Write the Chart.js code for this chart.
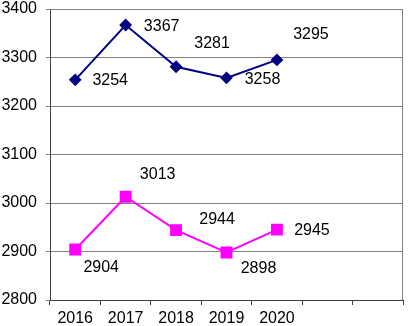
<!DOCTYPE html>
<html><head><meta charset="utf-8">
<script src="https://cdn.jsdelivr.net/npm/chart.js@4/dist/chart.umd.min.js"></script>
<style>html,body{margin:0;padding:0;background:#fff}#wrap{width:412px;height:326px}</style>
</head><body><div id="wrap"><canvas id="c" width="412" height="326"></canvas></div>
<script>
const categories = ['2016','2017','2018','2019','2020','',''];
const seriesA = [3254, 3367, 3281, 3258, 3295];
const seriesB = [2904, 3013, 2944, 2898, 2945];
const yTicks = [2800, 2900, 3000, 3100, 3200, 3300, 3400];
// label placement offsets (px) relative to each point
const offsetsA = [[35,1],[36,2],[36,-23],[36,2],[34,-25]];
const offsetsB = [[26,18],[32,-22],[41,-11],[32,16],[35,1]];

const FONT = "'Liberation Sans', Arial, sans-serif";

const labelPlugin = {
  id: 'labels',
  afterDatasetsDraw(chart) {
    const ctx = chart.ctx;
    ctx.save();
    ctx.font = '16px ' + FONT;
    ctx.fillStyle = '#000';
    ctx.textAlign = 'center';
    ctx.textBaseline = 'middle';
    const offs = [offsetsA, offsetsB];
    chart.data.datasets.forEach((ds, i) => {
      const meta = chart.getDatasetMeta(i);
      meta.data.forEach((pt, j) => {
        if (ds.data[j] == null) return;
        ctx.fillText(String(ds.data[j]), pt.x + offs[i][j][0], pt.y + offs[i][j][1]);
      });
    });
    ctx.restore();
  }
};
const borderPlugin = {
  id: 'border',
  beforeDatasetsDraw(chart) {
    const a = chart.chartArea, ctx = chart.ctx;
    ctx.save();
    ctx.strokeStyle = '#808080';
    ctx.lineWidth = 1;
    ctx.beginPath();
    ctx.moveTo(a.left, a.top + 0.5);
    ctx.lineTo(a.right - 0.5, a.top + 0.5);
    ctx.lineTo(a.right - 0.5, a.bottom);
    ctx.stroke();
    ctx.restore();
  }
};

new Chart(document.getElementById('c'), {
  type: 'line',
  data: {
    labels: categories,
    datasets: [
      { data: seriesA, borderColor: '#000080', backgroundColor: '#000080', borderWidth: 2,
        pointStyle: 'rectRot', pointRadius: 5, pointHoverRadius: 5, tension: 0 },
      { data: seriesB, borderColor: '#FF00FF', backgroundColor: '#FF00FF', borderWidth: 2,
        pointStyle: 'rect', pointRadius: 7, pointHoverRadius: 7, tension: 0 }
    ]
  },
  options: {
    responsive: false,
    animation: false,
    devicePixelRatio: 1,
    layout: { padding: { top: 6, right: 2, left: 0, bottom: 0 } },
    plugins: { legend: { display: false }, tooltip: { enabled: false } },
    scales: {
      x: {
        type: 'category',
        offset: true,
        grid: { offset: true, drawOnChartArea: false, drawTicks: true, tickLength: 5, color: '#404040' },
        border: { color: '#404040', width: 1 },
        ticks: { color: '#000', font: { family: FONT, size: 16 }, padding: 4, maxRotation: 0, autoSkip: false },
        afterFit(s) { s.height = 26; s.paddingLeft = 0; s.paddingRight = 0; }
      },
      y: {
        min: 2800, max: 3400,
        afterBuildTicks(s) { s.ticks = yTicks.map(v => ({ value: v })); },
        grid: { color: '#808080', tickLength: 4, drawTicks: true },
        border: { color: '#404040', width: 1 },
        ticks: { color: '#000', font: { family: FONT, size: 16 }, padding: 9, callback: v => String(v) },
        afterFit(s) { s.width = 50; s.paddingTop = 0; s.paddingBottom = 0; }
      }
    }
  },
  plugins: [borderPlugin, labelPlugin]
});
</script>
</body></html>
